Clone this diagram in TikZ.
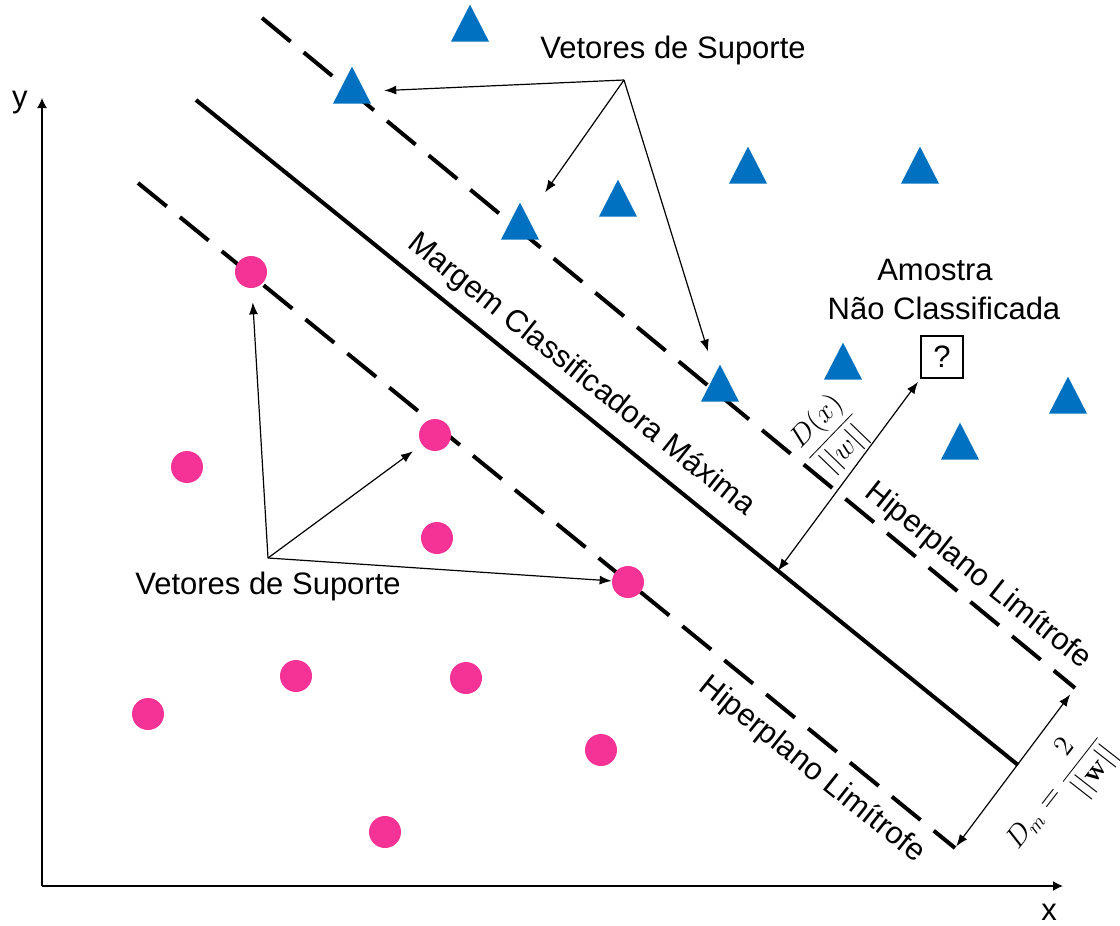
\documentclass[tikz,border=0pt]{standalone}
\usepackage[no-math]{fontspec}
\setmainfont{Liberation Sans}
\usetikzlibrary{arrows.meta,shapes.geometric}
\definecolor{ptblue}{RGB}{0,112,192}
\definecolor{ptpink}{RGB}{245,50,150}

\begin{document}
\begin{tikzpicture}[x=0.5pt,y=-0.5pt,
  lbl/.style={font=\fontsize{15.5}{18}\selectfont, inner sep=0pt},
  mathlbl/.style={font=\fontsize{15}{18}\selectfont, inner sep=0pt},
  tri/.style={isosceles triangle, isosceles triangle stretches, shape border rotate=90,
    fill=ptblue, inner sep=0pt, minimum width=19pt, minimum height=18.5pt},
  dot/.style={circle, fill=ptpink, inner sep=0pt, minimum size=16pt},
  hyper/.style={line width=2pt, dash pattern=on 18.5pt off 8.5pt},
  margin/.style={line width=2pt},
  pointer/.style={line width=0.6pt, -{Latex[length=6pt,width=4.5pt]}},
  gap/.style={line width=0.6pt, {Latex[length=6pt,width=4.5pt]}-{Latex[length=6pt,width=4.5pt]}},
  axis/.style={line width=0.7pt, -{Latex[length=5pt,width=5pt]}}]

\useasboundingbox (0,0) rectangle (1120,926);

% axes
\coordinate (O) at (42,886);
\coordinate (yend) at (42,98);
\coordinate (xend) at (1063,886);
\draw[axis] (O) -- (yend);
\draw[axis] (O) -- (xend);
\node[lbl] (ylab) at (20,103) {y};
\node[lbl] (xlab) at (1049,912) {x};

% hyperplanes
\coordinate (U1) at (262,18);  \coordinate (U2) at (1075,688);
\coordinate (M1) at (196,100); \coordinate (M2) at (1018,765);
\coordinate (L1) at (138,183); \coordinate (L2) at (955,848);
\draw[hyper] (U1) -- (U2);
\draw[margin] (M1) -- coordinate[pos=0.708] (Mfoot) (M2);
\draw[hyper] (L1) -- (L2);

% class +1
\node[tri] (t1) at (470,30) {};
\node[tri] (t2) at (352,92) {};
\node[tri] (t3) at (520,228) {};
\node[tri] (t4) at (618,205) {};
\node[tri] (t5) at (748,172) {};
\node[tri] (t6) at (920,172) {};
\node[tri] (t7) at (720,390) {};
\node[tri] (t8) at (843,368) {};
\node[tri] (t9) at (1068,402) {};
\node[tri] (t10) at (960,448) {};

% class -1
\node[dot] (c1) at (251,272) {};
\node[dot] (c2) at (187,467) {};
\node[dot] (c3) at (435,435) {};
\node[dot] (c4) at (437,538) {};
\node[dot] (c5) at (628,582) {};
\node[dot] (c6) at (296,676) {};
\node[dot] (c7) at (466,678) {};
\node[dot] (c8) at (148,714) {};
\node[dot] (c9) at (601,750) {};
\node[dot] (c10) at (385,832) {};

% line labels
\node[lbl, rotate=-38.5] (mlabel) at (581,375) {Margem Classificadora Máxima};
\node[lbl, rotate=-38.5] (hup) at (978,576) {Hiperplano Limítrofe};
\node[lbl, rotate=-38.5] (hlow) at (812,770) {Hiperplano Limítrofe};

% support vectors, upper class
\node[lbl] (svTop) at (673,50) {Vetores de Suporte};
\coordinate (svTopFoot) at (624,80);
\draw[pointer, shorten >=9.5pt] (svTopFoot) -- (t2);
\draw[pointer, shorten >=15pt] (svTopFoot) -- (t3);
\draw[pointer, shorten >=11.5pt] (svTopFoot) -- (t7);

% support vectors, lower class
\node[lbl] (svBot) at (268,586) {Vetores de Suporte};
\coordinate (svBotFoot) at (268,558);
\draw[pointer, shorten >=7pt] (svBotFoot) -- (c1);
\draw[pointer, shorten >=5.5pt] (svBotFoot) -- (c3);
\draw[pointer] (svBotFoot) -- (c5);

% unclassified sample
\node[lbl] (am1) at (935,270) {Amostra};
\node[lbl] (am2) at (944,308) {Não Classificada};
\node[lbl, draw, line width=0.6pt, minimum size=21pt] (q) at (942,357) {?};
\draw[gap, shorten >=2pt] (Mfoot) -- (q.south west);
\node[mathlbl, rotate=46] (dxlab) at (831,436) {$\displaystyle\frac{D(x)}{||w||}$};

% margin width
\draw[gap, shorten <=1pt, shorten >=4pt] (L2) -- (U2);
\node[mathlbl, font=\fontsize{14}{17}\selectfont, rotate=52] (dmlab) at (1057,792) {$D_m=\displaystyle\frac{2}{||\mathbf{w}||}$};

\end{tikzpicture}
\end{document}
